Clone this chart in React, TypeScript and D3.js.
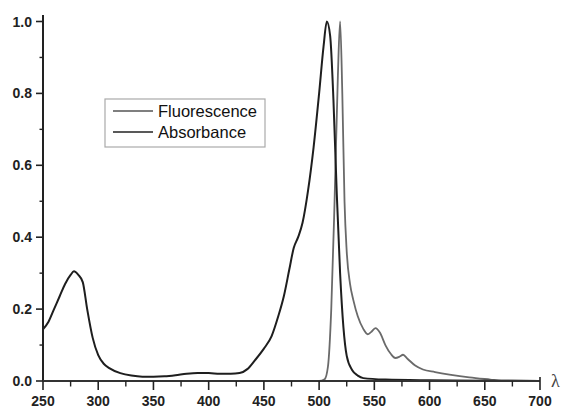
import React from "react";
import * as d3 from "d3";

const absWl = [250,255,260,265,270,275,278,282,286,290,295,300,305,310,320,330,340,350,360,370,380,390,400,410,420,428,435,442,450,457,463,468,473,477,481,485,490,495,500,504,507,510,513,516,519,522,525,530,535,540,560,600,650,700];
const absVal = [0.144,0.165,0.2,0.235,0.27,0.295,0.305,0.295,0.275,0.2,0.12,0.072,0.048,0.036,0.022,0.015,0.012,0.012,0.013,0.016,0.02,0.022,0.022,0.02,0.02,0.022,0.033,0.058,0.09,0.125,0.18,0.235,0.31,0.37,0.4,0.44,0.53,0.65,0.8,0.93,1.0,0.96,0.78,0.52,0.3,0.15,0.07,0.03,0.015,0.008,0.004,0.002,0.001,0];

const fluWl = [250,300,350,400,450,500,505,508,511,514,517,519,521,523,525,528,531,535,540,544,547,551,555,560,565,569,573,576,580,587,594,605,618,636,655,665,700];
const fluVal = [0,0,0,0,0,0,0.005,0.04,0.2,0.5,0.85,1.0,0.8,0.5,0.36,0.27,0.225,0.18,0.145,0.13,0.136,0.147,0.135,0.1,0.075,0.064,0.068,0.073,0.062,0.043,0.032,0.025,0.018,0.01,0.004,0.001,0];

const xMajor = [250,300,350,400,450,500,550,600,650,700];
const xMinor = [275,325,375,425,475,525,575,625,675];
const yMajor = [0,0.2,0.4,0.6,0.8,1.0];
const yMinor = [0.1,0.3,0.5,0.7,0.9];
const legendLabels = ["Fluorescence","Absorbance"];

export default function App() {
  const x = d3.scaleLinear().domain([250,700]).range([43,540]);
  const y = d3.scaleLinear().domain([0,1]).range([381,21.5]);
  const line = d3.line<[number,number]>().x(d=>x(d[0])).y(d=>y(d[1])).curve(d3.curveMonotoneX);
  const absPath = line(absWl.map((w,i)=>[w,absVal[i]]) as [number,number][]) || "";
  const fluPath = line(fluWl.map((w,i)=>[w,fluVal[i]]) as [number,number][]) || "";
  const font = "'Liberation Sans', Arial, sans-serif";
  return (
    <svg width={566} height={408} style={{position:"absolute",left:0,top:0,background:"#fff"}}>
      <path d={fluPath} fill="none" stroke="#6a6a6a" strokeWidth={1.8}/>
      <path d={absPath} fill="none" stroke="#1e1e1e" strokeWidth={2}/>
      {/* axes */}
      <line x1={43} x2={43} y1={15} y2={381} stroke="#222" strokeWidth={2}/>
      <line x1={43} x2={540} y1={381} y2={381} stroke="#333" strokeWidth={2}/>
      {yMajor.map(v=>(
        <g key={"ym"+v}>
          <line x1={36} x2={43} y1={y(v)} y2={y(v)} stroke="#222" strokeWidth={1.6}/>
          <text x={32} y={y(v)} textAnchor="end" dominantBaseline="central" fontFamily={font} fontWeight="bold" fontSize={14} fill="#222">{v.toFixed(1)}</text>
        </g>
      ))}
      {yMinor.map(v=>(
        <line key={"yn"+v} x1={39.5} x2={43} y1={y(v)} y2={y(v)} stroke="#222" strokeWidth={1.4}/>
      ))}
      {xMajor.map(v=>(
        <g key={"xm"+v}>
          <line x1={x(v)} x2={x(v)} y1={381} y2={390} stroke="#222" strokeWidth={1.6}/>
          <text x={x(v)} y={406} textAnchor="middle" fontFamily={font} fontWeight="bold" fontSize={14} fill="#222">{v}</text>
        </g>
      ))}
      {xMinor.map(v=>(
        <line key={"xn"+v} x1={x(v)} x2={x(v)} y1={381} y2={386.5} stroke="#222" strokeWidth={1.4}/>
      ))}
      <line x1={540} x2={540} y1={377} y2={381} stroke="#222" strokeWidth={1.6}/>
      <text x={551} y={387} fontFamily="'Liberation Serif', 'DejaVu Serif', serif" fontSize={18} fill="#444">λ</text>
      {/* legend */}
      <rect x={105} y={99} width={160} height={48} fill="#fff" stroke="#aaa" strokeWidth={1.2}/>
      {legendLabels.map((l,i)=>(
        <g key={l}>
          <line x1={113} x2={153} y1={111+i*21} y2={111+i*21} stroke={i===0?"#555":"#222"} strokeWidth={1.6}/>
          <text x={158} y={117+i*21} fontFamily={font} fontSize={16.5} fill="#111">{l}</text>
        </g>
      ))}
    </svg>
  );
}
